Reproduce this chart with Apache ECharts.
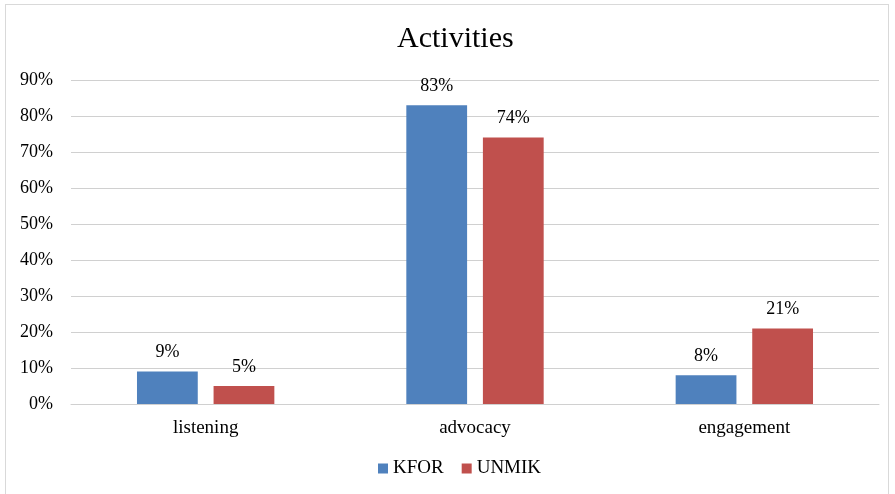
<!DOCTYPE html>
<html>
<head>
<meta charset="utf-8">
<script src="https://cdn.jsdelivr.net/npm/echarts@6/dist/echarts.min.js"></script>
<style>
  html, body { margin: 0; padding: 0; background: #fff; }
  #frame { position: absolute; left: 5px; top: 4px; width: 884px; height: 500px; border: 1px solid #d9d9d9; box-sizing: border-box; }
  #chart { position: absolute; left: 0; top: 0; width: 895px; height: 494px; }
</style>
</head>
<body>
<div id="frame"></div>
<div id="chart"></div>
<script>
// chart data
const categories = ['listening', 'advocacy', 'engagement'];
const kforValues = [9, 83, 8];
const unmikValues = [5, 74, 21];
const yTicks = [0, 10, 20, 30, 40, 50, 60, 70, 80, 90];

const serif = '"Liberation Serif", "DejaVu Serif", serif';

const chart = echarts.init(document.getElementById('chart'));
chart.setOption({
  animation: false,
  textStyle: { fontFamily: serif },
  title: {
    text: 'Activities',
    left: 392,
    top: 19,
    textStyle: { fontFamily: serif, fontSize: 30, fontWeight: 'normal', color: '#000' }
  },
  legend: {
    bottom: 11,
    left: 373,
    itemWidth: 10,
    itemHeight: 10,
    itemGap: 18,
    icon: 'rect',
    textStyle: { fontFamily: serif, fontSize: 19, color: '#000' },
    data: ['KFOR', 'UNMIK']
  },
  grid: { left: 71, right: 16, top: 80, bottom: 90 },
  xAxis: {
    type: 'category',
    data: categories,
    axisLine: { lineStyle: { color: '#d0d0d0' } },
    axisTick: { show: false },
    axisLabel: { fontFamily: serif, fontSize: 19, color: '#000', margin: 15 }
  },
  yAxis: {
    type: 'value',
    min: yTicks[0],
    max: yTicks[yTicks.length - 1],
    interval: 10,
    axisLine: { show: false },
    axisTick: { show: false },
    splitLine: { lineStyle: { color: '#d0d0d0', width: 1 } },
    axisLabel: { fontFamily: serif, fontSize: 18, color: '#000', margin: 18, formatter: '{value}%' }
  },
  series: [
    {
      name: 'KFOR',
      type: 'bar',
      data: kforValues,
      barGap: '26%',
      barCategoryGap: '49%',
      itemStyle: { color: '#4f81bd' },
      label: { show: true, position: 'top', distance: 10, fontFamily: serif, fontSize: 18, color: '#000', formatter: '{c}%' }
    },
    {
      name: 'UNMIK',
      type: 'bar',
      data: unmikValues,
      barGap: '26%',
      barCategoryGap: '49%',
      itemStyle: { color: '#c0504d' },
      label: { show: true, position: 'top', distance: 10, fontFamily: serif, fontSize: 18, color: '#000', formatter: '{c}%' }
    }
  ]
});
</script>
</body>
</html>
